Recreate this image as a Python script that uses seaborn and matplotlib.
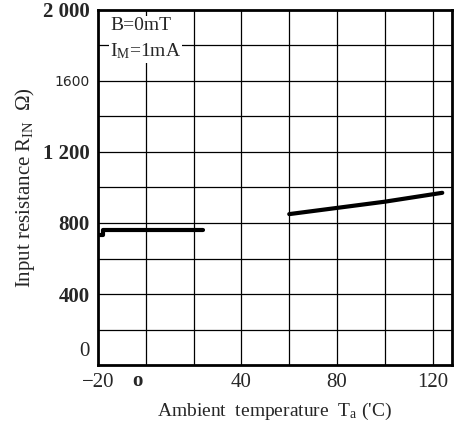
import matplotlib
matplotlib.use('Agg')
import matplotlib.pyplot as plt
import seaborn as sns
import pandas as pd

# values
temp_low = [-20, -18, -18, 24]
rin_low = [730, 730, 760, 760]
temp_high = [60, 80, 100, 124]
rin_high = [850, 885, 920, 970]

x_ticks = [-20, 0, 40, 80, 120]
x_labels = ['\u221220', 'o', '40', '80', '120']
y_ticks = [0, 400, 800, 1200, 1600, 2000]
y_labels = ['0', '400', '800', '1 200', '1600', '2 000']

sns.set_style('white')
plt.rcParams['font.family'] = ['Liberation Serif', 'DejaVu Serif']
plt.rcParams['mathtext.fontset'] = 'custom'
plt.rcParams['mathtext.rm'] = 'Liberation Serif'
plt.rcParams['mathtext.it'] = 'Liberation Serif:italic'

fig = plt.figure(figsize=(4.62, 4.29), dpi=100)
ax = fig.add_axes([0.212, 0.149, 0.766, 0.828])

df_low = pd.DataFrame({'T': temp_low, 'R': rin_low})
df_high = pd.DataFrame({'T': temp_high, 'R': rin_high})
sns.lineplot(data=df_low, x='T', y='R', ax=ax, color='black', linewidth=3,
             sort=False, estimator=None)
sns.lineplot(data=df_high, x='T', y='R', ax=ax, color='black', linewidth=3,
             estimator=None)

ax.set_xlim(-20, 128)
ax.set_ylim(0, 2000)

# grid every 20 degC / 200 ohm
for gx in range(0, 128, 20):
    ax.axvline(gx, color='black', linewidth=0.9, zorder=0)
for gy in range(200, 2000, 200):
    ax.axhline(gy, color='black', linewidth=0.9, zorder=0)

# the scan puts "0" (y) a bit higher and "o" (x) a bit left of their ticks
ax.set_xticks(x_ticks)
ax.set_xticklabels(['' if t == 'o' else t for t in x_labels], fontsize=15)
ax.set_yticks(y_ticks)
ax.set_yticklabels(['' if t == '0' else t for t in y_labels], fontsize=15, fontweight='bold')
for lab in ax.get_yticklabels():
    if lab.get_text() == '1600':
        lab.set_fontfamily('DejaVu Sans')
        lab.set_fontsize(10)
        lab.set_fontweight('normal')
ax.tick_params(axis='both', length=0, pad=6)

ax.annotate(y_labels[0], xy=(0, y_ticks[0]), xycoords=('axes fraction', 'data'),
            xytext=(-6, 10), textcoords='offset points', ha='right', va='center',
            fontsize=15)
ax.annotate(x_labels[1], xy=(x_ticks[1], 0), xycoords=('data', 'axes fraction'),
            xytext=(-6, -4.5), textcoords='offset points', ha='center', va='top',
            fontsize=15, fontweight='bold')

for s in ax.spines.values():
    s.set_linewidth(2)
    s.set_color('black')

ax.set_xlabel('Ambient  temperature  T$_{\\rm a}$ (\'C)', fontsize=14, labelpad=6)
ax.set_ylabel('Input resistance R$_{\\rm IN}$  \u03a9)', fontsize=15, labelpad=4)

ax.text(-15, 1960, 'B=0mT\nI$_{\\rm M}$=1mA', fontsize=14, va='top', ha='left',
        linespacing=1.5, bbox=dict(facecolor='white', edgecolor='none', pad=1))

fig.savefig('out.png', dpi=100)
